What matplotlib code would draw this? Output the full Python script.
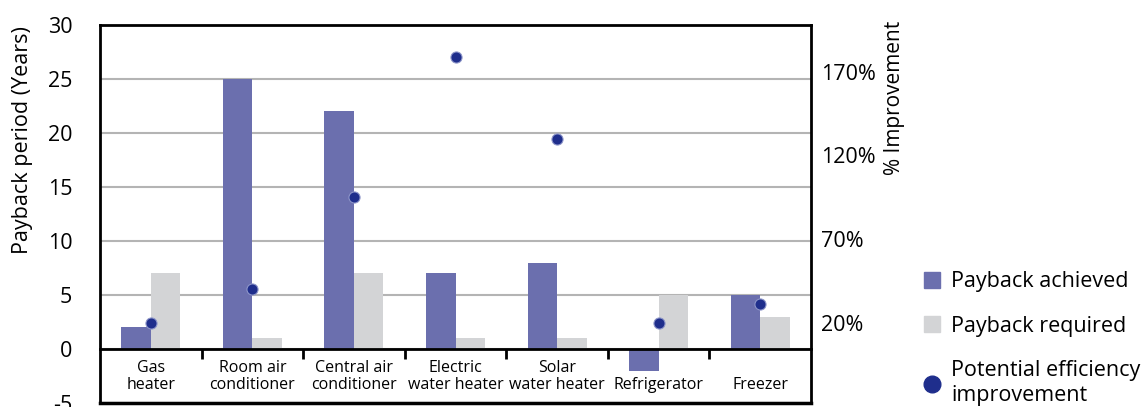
"""Payback period vs potential efficiency improvement, by appliance."""

import matplotlib
matplotlib.use("Agg")
import matplotlib.pyplot as plt
from matplotlib.lines import Line2D

# Data
categories = ["Gas\nheater", "Room air\nconditioner", "Central air\nconditioner",
              "Electric\nwater heater", "Solar\nwater heater", "\nRefrigerator", "\nFreezer"]
payback_achieved = [2, 25, 22, 7, 8, -2, 5]
payback_required = [7, 1, 7, 1, 1, 5, 3]
efficiency_improvement = [20, 40, 95, 179, 130, 20, 31]  # % (right axis)

left_ticks = [-5, 0, 5, 10, 15, 20, 25, 30]
right_ticks = [20, 70, 120, 170]

ACHIEVED = "#6b6fae"
REQUIRED = "#d3d4d6"
DOT = "#1f2e8c"
GRID = "#b4b4b4"

plt.rcParams["font.family"] = ["Open Sans", "DejaVu Sans"]

fig = plt.figure(figsize=(11.48, 4.07), dpi=100)
ax = fig.add_axes([0.0871, 0.0098, 0.6194, 0.9288])

x = list(range(len(categories)))
w = 0.29
ax.bar([i - w / 2 for i in x], payback_achieved, width=w, color=ACHIEVED, zorder=2)
ax.bar([i + w / 2 for i in x], payback_required, width=w, color=REQUIRED, zorder=2)

ax.set_xlim(-0.5, len(categories) - 0.5)
ax.set_ylim(-5, 30)
ax.set_yticks(left_ticks)
ax.set_yticklabels([str(t) for t in left_ticks], fontsize=15.5)
ax.tick_params(axis="y", length=0, pad=20)
ax.yaxis.grid(True, color=GRID, lw=1.5)
ax.set_axisbelow(True)

# category axis sits on zero, with ticks at the category boundaries
ax.spines["bottom"].set_position(("data", 0))
ax.set_xticks(x)
ax.set_xticklabels(categories, fontsize=11.5, linespacing=1.05)
ax.set_xticks([i + 0.5 for i in x[:-1]], minor=True)
ax.tick_params(axis="x", which="major", length=0, pad=8)
ax.tick_params(axis="x", which="minor", direction="out", length=7, width=2)
for s in ax.spines.values():
    s.set_linewidth(2)
ax.axhline(ax.get_ylim()[0], color="black", lw=2.5, clip_on=False, zorder=5)

ax.text(-0.109, 0.695, "Payback period (Years)", transform=ax.transAxes,
        rotation=90, ha="center", va="center", fontsize=15.5)

# right axis: % improvement
ax2 = ax.twinx()
ax2.set_ylim(-28, 198)
ax2.set_yticks(right_ticks)
ax2.set_yticklabels([f"{t}%" for t in right_ticks], fontsize=15.5)
ax2.tick_params(axis="y", length=0, pad=7)
for s in ax2.spines.values():
    s.set_visible(False)
ax2.plot(x, efficiency_improvement, "o", ms=8, color=DOT, mec="#8d95c9", mew=0.8,
         ls="none", zorder=4)
ax2.text(1.118, 0.807, "% Improvement", transform=ax.transAxes,
         rotation=90, ha="center", va="center", fontsize=15)

handles = [
    Line2D([], [], marker="s", ls="none", ms=11, color=ACHIEVED),
    Line2D([], [], marker="s", ls="none", ms=11, color=REQUIRED),
    Line2D([], [], marker="o", ls="none", ms=12, color=DOT),
]
labels = ["Payback achieved", "Payback required", "Potential efficiency\nimprovement"]
fig.legend(handles, labels, loc="upper left", bbox_to_anchor=(0.795, 0.355),
           frameon=False, fontsize=15.5, handlelength=1.0, handletextpad=0.4,
           labelspacing=1.1, borderaxespad=0)

fig.savefig("out.png", dpi=100)
